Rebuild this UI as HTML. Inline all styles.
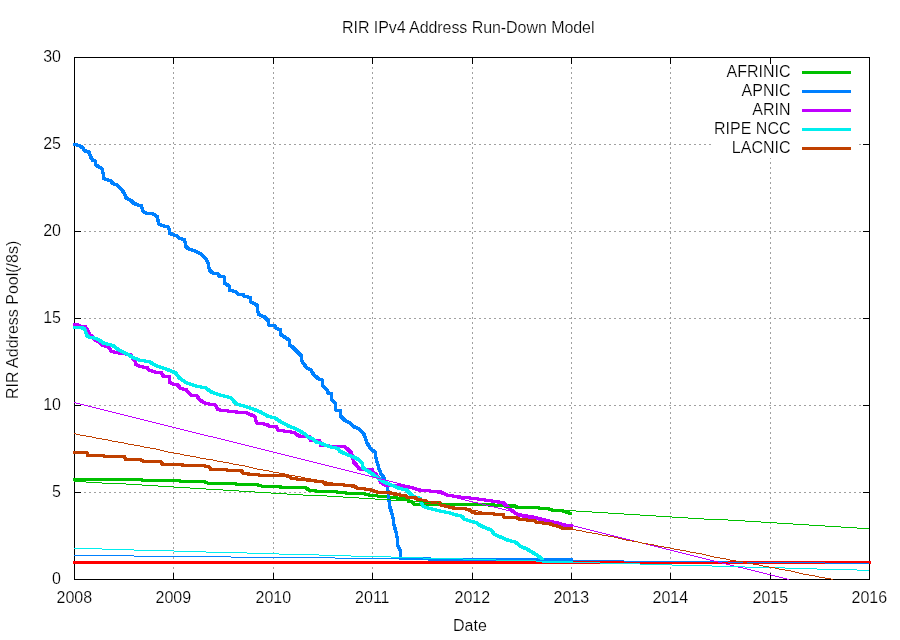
<!DOCTYPE html>
<html><head><meta charset="utf-8"><title>RIR IPv4 Address Run-Down Model</title>
<style>
html,body{margin:0;padding:0;background:#fff;}
svg{display:block;}
text{font-family:"Liberation Sans",Arial,sans-serif;font-size:16px;fill:#000;stroke:#fff;stroke-width:0.2px;}
.g{stroke:#a0a0a0;stroke-width:1;stroke-dasharray:2 3;fill:none;}
.k{stroke:#000;stroke-width:1;fill:none;}
.t{fill:none;stroke-width:3;stroke-linejoin:miter;stroke-linecap:square;}
.n{fill:none;stroke-width:1;}
.b{fill:none;stroke-width:1;stroke-linejoin:miter;stroke-linecap:butt;}
</style></head><body>
<svg width="900" height="640" viewBox="0 0 900 640">
<rect x="0" y="0" width="900" height="640" fill="#ffffff"/>
<g shape-rendering="crispEdges">
<line class="g" x1="173.5" y1="57" x2="173.5" y2="579"/>
<line class="g" x1="273.5" y1="57" x2="273.5" y2="579"/>
<line class="g" x1="372.5" y1="57" x2="372.5" y2="579"/>
<line class="g" x1="472.5" y1="57" x2="472.5" y2="579"/>
<line class="g" x1="571.5" y1="57" x2="571.5" y2="579"/>
<line class="g" x1="670.5" y1="57" x2="670.5" y2="579"/>
<line class="g" x1="770.5" y1="57" x2="770.5" y2="579"/>
<line class="g" x1="74" y1="492.5" x2="869" y2="492.5"/>
<line class="g" x1="74" y1="405.5" x2="869" y2="405.5"/>
<line class="g" x1="74" y1="318.5" x2="869" y2="318.5"/>
<line class="g" x1="74" y1="231.5" x2="869" y2="231.5"/>
<line class="g" x1="74" y1="144.5" x2="869" y2="144.5"/>
<line class="k" x1="173.5" y1="579" x2="173.5" y2="573"/>
<line class="k" x1="173.5" y1="57" x2="173.5" y2="64"/>
<line class="k" x1="273.5" y1="579" x2="273.5" y2="573"/>
<line class="k" x1="273.5" y1="57" x2="273.5" y2="64"/>
<line class="k" x1="372.5" y1="579" x2="372.5" y2="573"/>
<line class="k" x1="372.5" y1="57" x2="372.5" y2="64"/>
<line class="k" x1="472.5" y1="579" x2="472.5" y2="573"/>
<line class="k" x1="472.5" y1="57" x2="472.5" y2="64"/>
<line class="k" x1="571.5" y1="579" x2="571.5" y2="573"/>
<line class="k" x1="571.5" y1="57" x2="571.5" y2="64"/>
<line class="k" x1="670.5" y1="579" x2="670.5" y2="573"/>
<line class="k" x1="670.5" y1="57" x2="670.5" y2="64"/>
<line class="k" x1="770.5" y1="579" x2="770.5" y2="573"/>
<line class="k" x1="770.5" y1="57" x2="770.5" y2="64"/>
<line class="k" x1="74" y1="492.5" x2="81" y2="492.5"/>
<line class="k" x1="869" y1="492.5" x2="863" y2="492.5"/>
<line class="k" x1="74" y1="405.5" x2="81" y2="405.5"/>
<line class="k" x1="869" y1="405.5" x2="863" y2="405.5"/>
<line class="k" x1="74" y1="318.5" x2="81" y2="318.5"/>
<line class="k" x1="869" y1="318.5" x2="863" y2="318.5"/>
<line class="k" x1="74" y1="231.5" x2="81" y2="231.5"/>
<line class="k" x1="869" y1="231.5" x2="863" y2="231.5"/>
<line class="k" x1="74" y1="144.5" x2="81" y2="144.5"/>
<line class="k" x1="869" y1="144.5" x2="863" y2="144.5"/>
<rect x="712" y="64" width="147" height="94" fill="#fff"/>
<rect class="k" x="74.5" y="57.5" width="795" height="522"/>
<line class="t" stroke="#ff0000" x1="74.5" y1="562.5" x2="869.5" y2="562.5"/>
<g stroke="#00c000" class="b"><polyline id="c0" points="74.0,479.5 141.3,479.5 142.7,480.5 179.3,480.5 180.7,481.5 204.0,481.5 206.7,483.0 234.7,483.3 236.7,484.5 257.3,484.7 261.3,486.0 278.7,486.3 281.3,487.3 297.3,487.6 306.0,488.0 310.0,490.7 343.3,492.3 347.3,493.3 364.7,494.0 370.0,495.3 388.0,497.0 400.0,498.4 407.1,499.1 408.9,501.3 413.3,502.2 414.2,504.5 473.3,504.5 490.0,504.7 503.3,505.7 515.3,506.0 516.7,507.3 530.0,507.6 547.3,508.4 552.7,510.3 563.3,511.0 568.7,513.0 571.5,513.3"/>
<use href="#c0" x="-1" y="-1"/>
<use href="#c0" x="-1" y="0"/>
<use href="#c0" x="-1" y="1"/>
<use href="#c0" x="0" y="-1"/>
<use href="#c0" x="0" y="1"/>
<use href="#c0" x="1" y="-1"/>
<use href="#c0" x="1" y="0"/>
<use href="#c0" x="1" y="1"/>
<use href="#c0" stroke-width="2.6"/>
</g>
<g stroke="#0080ff" class="b"><polyline id="c1" points="74.0,144.5 79.3,145.5 82.7,147.7 84.7,150.7 89.3,152.3 90.7,157.0 92.7,160.3 95.3,161.0 96.0,165.0 98.7,167.0 102.0,168.6 103.3,173.7 103.6,178.3 106.0,179.7 110.7,180.3 112.7,183.7 117.3,185.0 120.0,188.3 122.7,191.0 124.7,194.3 126.0,197.7 130.7,200.3 133.3,203.0 136.7,204.6 141.3,205.7 142.7,211.0 146.0,213.0 152.7,213.7 157.3,216.7 158.7,224.0 162.7,225.6 168.7,227.3 169.7,233.3 176.7,236.0 180.0,238.7 184.4,239.3 186.0,246.7 188.7,249.0 195.3,251.0 200.7,254.0 206.0,259.3 208.4,264.0 209.3,270.0 212.7,273.0 218.0,273.7 219.5,276.2 224.0,276.8 224.8,283.3 229.0,286.0 230.0,290.7 235.0,291.3 238.3,294.3 243.0,294.7 245.0,296.7 250.0,297.3 251.0,302.0 257.0,305.3 258.3,314.0 265.0,317.3 268.3,320.7 269.0,325.0 274.7,325.3 276.3,328.7 280.3,329.3 281.0,334.7 289.0,340.0 289.7,345.3 292.3,346.7 296.3,350.9 301.0,355.3 302.3,362.0 307.0,368.0 311.0,370.0 313.7,374.7 318.3,378.7 322.3,380.0 323.0,386.0 327.0,390.0 328.3,393.3 331.7,394.0 332.0,400.0 335.0,402.7 335.7,410.0 340.3,410.7 341.0,416.3 345.0,420.7 349.7,422.5 353.7,426.7 359.0,428.7 364.3,434.7 367.0,442.7 371.0,449.3 375.0,452.0 376.3,459.3 379.0,468.7 381.0,474.0 383.7,477.3 385.0,480.7 387.7,486.7 388.5,497.0 389.6,506.3 392.7,515.7 394.0,525.0 396.7,534.3 398.0,546.3 400.7,551.7 400.7,558.5 429.0,558.5 430.0,559.5 571.5,559.5"/>
<use href="#c1" x="-1" y="-1"/>
<use href="#c1" x="-1" y="0"/>
<use href="#c1" x="-1" y="1"/>
<use href="#c1" x="0" y="-1"/>
<use href="#c1" x="0" y="1"/>
<use href="#c1" x="1" y="-1"/>
<use href="#c1" x="1" y="0"/>
<use href="#c1" x="1" y="1"/>
<use href="#c1" stroke-width="2.6"/>
</g>
<g stroke="#c000ff" class="b"><polyline id="c2" points="74.0,324.5 77.5,324.5 79.0,325.5 81.0,326.5 85.5,327.0 87.3,329.5 88.7,332.0 89.7,335.0 92.5,336.5 94.5,339.5 96.5,340.5 99.5,342.0 103.0,345.5 109.3,347.3 111.3,351.3 116.7,352.7 123.3,353.7 130.7,354.7 132.7,358.7 135.3,361.3 136.0,364.7 140.7,366.7 147.3,367.6 148.7,370.0 155.3,372.0 161.3,372.7 163.3,376.0 169.3,376.4 170.0,382.7 173.3,384.0 177.3,384.7 180.7,388.5 186.0,389.7 190.7,395.0 196.7,395.7 200.0,400.3 206.7,403.7 215.3,405.0 218.0,409.7 233.3,411.7 246.7,413.0 254.7,416.3 256.7,423.0 266.7,424.3 269.3,426.3 276.7,427.0 278.0,430.3 286.7,431.4 294.5,432.6 296.5,434.5 300.0,436.3 309.5,436.8 310.3,440.3 319.8,440.8 320.5,445.2 328.0,445.8 331.0,446.8 345.0,447.0 347.5,449.0 351.0,452.5 352.8,457.0 353.5,462.0 356.5,465.0 358.5,468.0 361.0,469.5 366.0,469.3 372.0,469.2 373.5,473.0 376.4,474.5 378.5,478.5 381.0,482.5 385.0,485.0 390.0,486.0 400.6,485.3 412.2,487.7 420.0,490.3 440.0,491.7 446.7,495.0 460.0,497.0 473.3,498.3 486.7,500.3 503.3,502.7 507.3,506.7 511.3,510.0 515.3,513.3 520.7,515.6 535.3,518.0 543.3,520.0 556.7,522.7 564.7,525.1 571.5,525.7"/>
<use href="#c2" x="-1" y="-1"/>
<use href="#c2" x="-1" y="0"/>
<use href="#c2" x="-1" y="1"/>
<use href="#c2" x="0" y="-1"/>
<use href="#c2" x="0" y="1"/>
<use href="#c2" x="1" y="-1"/>
<use href="#c2" x="1" y="0"/>
<use href="#c2" x="1" y="1"/>
<use href="#c2" stroke-width="2.6"/>
</g>
<g stroke="#00eeee" class="b"><polyline id="c3" points="74.0,327.5 81.5,327.5 84.5,329.0 85.8,331.0 86.2,335.0 88.5,337.0 94.0,338.0 98.5,339.5 104.0,343.3 112.7,345.3 118.7,350.0 126.0,353.3 134.0,358.0 139.3,360.0 150.0,362.0 155.3,365.3 163.3,368.0 175.3,372.7 179.3,378.0 186.7,383.0 197.3,386.3 205.3,387.7 210.7,391.7 220.0,395.0 230.7,397.7 236.0,403.7 249.3,407.7 260.0,411.7 268.0,416.3 274.7,417.7 281.3,422.3 290.0,426.7 295.3,428.4 300.7,431.6 305.1,434.2 307.8,436.9 313.1,439.1 315.8,441.8 320.2,443.1 325.6,445.3 330.9,447.1 338.0,448.4 339.8,451.1 345.1,453.8 352.2,456.4 357.6,459.1 362.0,462.7 362.6,467.1 365.6,469.8 369.6,472.0 376.7,477.0 383.3,481.7 391.3,485.0 400.0,488.6 406.2,489.8 409.8,493.3 412.5,496.0 416.0,497.5 420.0,498.3 421.5,503.0 423.1,506.5 429.3,508.4 435.6,509.8 442.7,511.6 449.8,512.9 456.9,515.1 462.2,516.4 464.0,519.1 471.1,521.3 476.4,522.7 480.0,525.3 484.0,527.3 491.1,530.0 494.4,534.2 502.2,537.8 508.9,540.6 515.6,542.2 521.1,546.7 526.7,548.9 532.2,552.2 537.8,555.6 541.8,558.9 543.5,561.5 571.5,561.5"/>
<use href="#c3" x="-1" y="-1"/>
<use href="#c3" x="-1" y="0"/>
<use href="#c3" x="-1" y="1"/>
<use href="#c3" x="0" y="-1"/>
<use href="#c3" x="0" y="1"/>
<use href="#c3" x="1" y="-1"/>
<use href="#c3" x="1" y="0"/>
<use href="#c3" x="1" y="1"/>
<use href="#c3" stroke-width="2.6"/>
</g>
<g stroke="#c04000" class="b"><polyline id="c4" points="74.0,452.5 86.7,452.5 88.0,455.5 103.3,455.5 104.7,456.7 124.7,456.7 125.3,459.5 140.7,459.7 143.3,461.3 160.7,461.6 162.7,464.3 182.0,464.7 183.3,465.6 204.0,465.7 209.3,467.0 210.7,469.3 226.7,470.0 241.3,470.7 243.3,473.3 250.7,474.3 262.7,475.3 284.0,475.3 289.3,476.7 292.0,478.5 307.3,480.0 323.3,482.0 326.0,484.3 340.7,484.7 354.0,486.0 356.7,488.0 370.0,489.6 376.7,492.0 393.3,493.2 400.0,495.0 405.3,495.3 407.1,497.3 415.1,497.8 417.8,499.6 424.9,500.4 426.7,502.2 439.1,502.7 441.8,505.3 448.0,506.7 453.3,508.0 465.8,508.9 470.2,510.2 472.9,512.9 490.7,513.8 503.3,514.7 504.0,517.3 516.7,518.0 520.7,519.6 534.0,520.4 537.3,522.7 548.7,523.3 554.0,525.3 559.3,526.7 562.7,528.4 571.5,528.4"/>
<use href="#c4" x="-1" y="-1"/>
<use href="#c4" x="-1" y="0"/>
<use href="#c4" x="-1" y="1"/>
<use href="#c4" x="0" y="-1"/>
<use href="#c4" x="0" y="1"/>
<use href="#c4" x="1" y="-1"/>
<use href="#c4" x="1" y="0"/>
<use href="#c4" x="1" y="1"/>
<use href="#c4" stroke-width="2.6"/>
</g>
<polyline class="n" stroke="#00c000" points="73.6,481.5 81.6,481.5 89.6,482.5 97.6,482.5 105.6,483.5 121.6,483.5 129.6,484.5 137.6,484.5 145.6,485.5 153.6,485.5 161.6,486.5 169.6,486.5 177.6,487.5 185.6,487.5 193.6,488.5 201.6,488.5 210.6,489.5 218.6,489.5 226.6,490.5 234.6,490.5 242.6,491.5 250.6,491.5 258.6,492.5 266.6,492.5 274.6,493.5 282.6,493.5 290.6,494.5 298.6,494.5 306.6,495.5 322.6,495.5 330.6,496.5 338.6,496.5 346.6,497.5 354.6,497.5 362.6,498.5 370.6,498.5 378.6,499.5 386.6,499.5 394.6,500.5 402.6,500.5 410.6,501.5 418.6,501.5 426.6,502.5 434.6,502.5 442.6,503.5 450.6,503.5 458.6,504.5 466.6,504.5 475.6,505.5 483.6,505.5 491.6,506.5 499.6,506.5 507.6,507.5 523.6,507.5 531.6,508.5 539.6,508.5 547.6,509.5 555.6,509.5 563.6,510.5 571.6,510.5 579.6,511.5 587.6,511.5 595.6,512.5 603.6,512.5 611.6,513.5 619.6,513.5 627.6,514.5 635.6,514.5 643.6,515.5 651.6,515.5 659.6,516.5 667.6,516.5 675.6,517.5 683.6,517.5 691.6,518.5 699.6,518.5 707.6,519.5 723.6,519.5 731.6,520.5 740.6,520.5 748.6,521.5 756.6,521.5 764.6,522.5 772.6,522.5 780.6,523.5 788.6,523.5 796.6,524.5 804.6,524.5 812.6,525.5 820.6,525.5 828.6,526.5 836.6,526.5 844.6,527.5 852.6,527.5 860.6,528.5 868.6,528.5"/>
<polyline class="n" stroke="#0080ff" points="73.6,555.5 129.6,555.5 137.6,556.5 226.6,556.5 234.6,557.5 330.6,557.5 338.6,558.5 426.6,558.5 434.6,559.5 523.6,559.5 531.6,560.5 619.6,560.5 627.6,561.5 723.6,561.5 731.6,562.5 820.6,562.5 828.6,563.5 868.6,563.5"/>
<polyline class="n" stroke="#c000ff" points="73.6,402.5 81.6,404.5 89.6,406.5 97.6,408.5 105.6,410.5 113.6,412.5 121.6,414.5 129.6,416.5 137.6,418.5 145.6,420.5 153.6,422.5 161.6,424.5 169.6,426.5 177.6,428.5 185.6,430.5 193.6,432.5 201.6,434.5 210.6,436.5 218.6,438.5 226.6,440.5 234.6,442.5 242.6,444.5 250.6,446.5 258.6,448.5 266.6,450.5 274.6,452.5 282.6,454.5 290.6,456.5 298.6,458.5 306.6,460.5 314.6,462.5 322.6,464.5 330.6,466.5 338.6,468.5 346.6,470.5 354.6,472.5 362.6,474.5 370.6,476.5 378.6,478.5 386.6,480.5 394.6,482.5 402.6,484.5 410.6,486.5 418.6,488.5 426.6,490.5 434.6,492.5 442.6,494.5 450.6,496.5 458.6,498.5 466.6,500.5 475.6,502.5 483.6,504.5 491.6,506.5 499.6,508.5 507.6,510.5 515.6,512.5 523.6,514.5 531.6,515.5 539.6,517.5 547.6,519.5 555.6,521.5 563.6,523.5 571.6,525.5 579.6,527.5 587.6,529.5 595.6,531.5 603.6,533.5 611.6,535.5 619.6,537.5 627.6,539.5 635.6,541.5 643.6,543.5 651.6,545.5 659.6,547.5 667.6,549.5 675.6,551.5 683.6,553.5 691.6,555.5 699.6,557.5 707.6,559.5 715.6,561.5 723.6,563.5 731.6,565.5 740.6,567.5 748.6,569.5 756.6,571.5 764.6,573.5 772.6,575.5 780.6,577.5 789.5,579.5"/>
<polyline class="n" stroke="#00eeee" points="73.6,548.5 97.6,548.5 105.6,549.5 129.6,549.5 137.6,550.5 169.6,550.5 177.6,551.5 201.6,551.5 210.6,552.5 242.6,552.5 250.6,553.5 274.6,553.5 282.6,554.5 314.6,554.5 322.6,555.5 346.6,555.5 354.6,556.5 386.6,556.5 394.6,557.5 418.6,557.5 426.6,558.5 458.6,558.5 466.6,559.5 491.6,559.5 499.6,560.5 531.6,560.5 539.6,561.5 563.6,561.5 571.6,562.5 595.6,562.5 603.6,563.5 635.6,563.5 643.6,564.5 667.6,564.5 675.6,565.5 707.6,565.5 715.6,566.5 740.6,566.5 748.6,567.5 780.6,567.5 788.6,568.5 812.6,568.5 820.6,569.5 852.6,569.5 860.6,570.5 868.6,570.5"/>
<polyline class="n" stroke="#c04000" points="73.6,433.5 81.6,435.5 89.6,436.5 97.6,438.5 105.6,439.5 113.6,441.5 121.6,442.5 129.6,444.5 137.6,445.5 145.6,447.5 153.6,448.5 161.6,450.5 169.6,452.5 177.6,453.5 185.6,455.5 193.6,456.5 201.6,458.5 210.6,459.5 218.6,461.5 226.6,462.5 234.6,464.5 242.6,465.5 250.6,467.5 258.6,469.5 266.6,470.5 274.6,472.5 282.6,473.5 290.6,475.5 298.6,476.5 306.6,478.5 314.6,479.5 322.6,481.5 330.6,482.5 338.6,484.5 346.6,486.5 354.6,487.5 362.6,489.5 370.6,490.5 378.6,492.5 386.6,493.5 394.6,495.5 402.6,496.5 410.6,498.5 418.6,499.5 426.6,501.5 434.6,502.5 442.6,504.5 450.6,506.5 458.6,507.5 466.6,509.5 475.6,510.5 483.6,512.5 491.6,513.5 499.6,515.5 507.6,516.5 515.6,518.5 523.6,519.5 531.6,521.5 539.6,523.5 547.6,524.5 555.6,526.5 563.6,527.5 571.6,529.5 579.6,530.5 587.6,532.5 595.6,533.5 603.6,535.5 611.6,536.5 619.6,538.5 627.6,540.5 635.6,541.5 643.6,543.5 651.6,544.5 659.6,546.5 667.6,547.5 675.6,549.5 683.6,550.5 691.6,552.5 699.6,553.5 707.6,555.5 715.6,557.5 723.6,558.5 731.6,560.5 740.6,561.5 748.6,563.5 756.6,564.5 764.6,566.5 772.6,567.5 780.6,569.5 788.6,570.5 796.6,572.5 804.6,574.5 812.6,575.5 820.6,577.5 828.6,578.5 833.5,579.5"/>
<line stroke="#00c000" stroke-width="3" x1="802" y1="72.5" x2="851" y2="72.5"/>
<line stroke="#0080ff" stroke-width="3" x1="802" y1="91.5" x2="851" y2="91.5"/>
<line stroke="#c000ff" stroke-width="3" x1="802" y1="110.5" x2="851" y2="110.5"/>
<line stroke="#00eeee" stroke-width="3" x1="802" y1="129.5" x2="851" y2="129.5"/>
<line stroke="#c04000" stroke-width="3" x1="802" y1="148.5" x2="851" y2="148.5"/>
</g>
<text x="342" y="33" textLength="252.5" lengthAdjust="spacing">RIR IPv4 Address Run-Down Model</text>
<text x="790.5" y="77" text-anchor="end">AFRINIC</text>
<text x="790.5" y="96" text-anchor="end">APNIC</text>
<text x="790.5" y="115" text-anchor="end">ARIN</text>
<text x="790.5" y="134" text-anchor="end">RIPE NCC</text>
<text x="790.5" y="153" text-anchor="end">LACNIC</text>
<text x="61" y="584" text-anchor="end">0</text>
<text x="61" y="497" text-anchor="end">5</text>
<text x="61" y="410" text-anchor="end">10</text>
<text x="61" y="323" text-anchor="end">15</text>
<text x="61" y="236" text-anchor="end">20</text>
<text x="61" y="149" text-anchor="end">25</text>
<text x="61" y="62" text-anchor="end">30</text>
<text x="74.3" y="603" text-anchor="middle">2008</text>
<text x="173.3" y="603" text-anchor="middle">2009</text>
<text x="273.3" y="603" text-anchor="middle">2010</text>
<text x="372.3" y="603" text-anchor="middle">2011</text>
<text x="472.3" y="603" text-anchor="middle">2012</text>
<text x="571.3" y="603" text-anchor="middle">2013</text>
<text x="670.3" y="603" text-anchor="middle">2014</text>
<text x="770.3" y="603" text-anchor="middle">2015</text>
<text x="869.3" y="603" text-anchor="middle">2016</text>
<text x="453" y="631">Date</text>
<text transform="translate(18,399) rotate(-90)">RIR Address Pool(/8s)</text>
</svg></body></html>
